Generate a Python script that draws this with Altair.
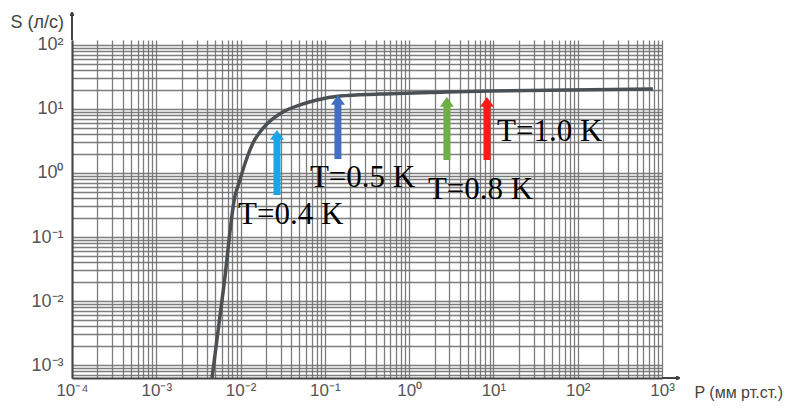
import altair as alt
import pandas as pd

# ---- data ----
curve_p = [10**-2.339, 10**-2.197, 10**-2.066, 10**-2.019, 10**-1.972, 10**-1.912,
           10**-1.853, 10**-1.770, 10**-1.687, 10**-1.497, 10**-1.295, 10**-1.094,
           10**-0.821, 10**-0.347, 10**0.448, 10**0.958, 10**2.892]
curve_s = [10**-3.203, 10**-1.75, 10**-0.359, 10**-0.156, 10**0.047, 10**0.281,
           10**0.469, 10**0.641, 10**0.766, 10**0.953, 10**1.063, 10**1.141,
           10**1.203, 10**1.234, 10**1.266, 10**1.281, 10**1.3125]

arrow_names = ["T=0.4 K", "T=0.5 K", "T=0.8 K", "T=1.0 K"]
arrow_p = [10**-1.568, 10**-0.845, 10**0.448, 10**0.923]
arrow_s_low = [10**-0.344, 10**0.219, 10**0.203, 10**0.203]
arrow_s_high = [10**0.672, 10**1.219, 10**1.188, 10**1.188]
arrow_colors = ["#18a6ea", "#4170c2", "#6fae46", "#ff1a1a"]

label_p = [10**-2.031, 10**-1.177, 10**0.223, 10**1.042]
label_s = [10**-0.656, 10**-0.078, 10**-0.266, 10**0.641]

x_title = "P (мм рт.ст.)"
y_title = "S (л/с)"

x_domain = [1e-4, 1e3]
y_domain = [10**-3.203, 10**2.078]

x_grid = [m * 10**k for k in range(-4, 3) for m in range(1, 10)] + [1000]
y_grid = [v for v in (m * 10**k for k in range(-4, 2) for m in range(1, 10)) if v >= y_domain[0]] + [100]

W, H = 590, 338

sup = "['⁻⁴','⁻³','⁻²','⁻¹','⁰','¹','²','³']"
lab_expr = ("abs(log(datum.value)/LN10 - round(log(datum.value)/LN10)) < 0.001 ? '10' + "
            + sup + "[round(log(datum.value)/LN10)+4] : ''")

xs = alt.Scale(type="log", domain=x_domain, nice=False)
ys = alt.Scale(type="log", domain=y_domain, nice=False)

curve_df = pd.DataFrame({"p": curve_p, "s": curve_s})
arrow_df = pd.DataFrame({"name": arrow_names, "p": arrow_p, "lo": arrow_s_low,
                         "hi": arrow_s_high, "lp": label_p, "ls": label_s})

grid_style = dict(gridColor="#6f6f6f", gridWidth=1.3, gridOpacity=0.9)

x_axis = alt.Axis(values=x_grid, labelExpr=lab_expr, grid=True, ticks=False,
                  labelOverlap=False, labelFlush=False, labelPadding=4,
                  labelFont="Liberation Sans", labelFontSize=17, labelColor="#555555",
                  domainColor="#444444", domainWidth=2,
                  title=x_title, titleAngle=0, titleX=622, titleY=14,
                  titleAlign="left", titleBaseline="middle",
                  titleFont="Liberation Sans", titleFontSize=16,
                  titleFontWeight="normal", titleColor="#444444", **grid_style)
y_axis = alt.Axis(values=y_grid, labelExpr=lab_expr, grid=True, ticks=False,
                  labelOverlap=False, labelFlush=False, labelPadding=9,
                  labelFont="Liberation Sans", labelFontSize=18, labelColor="#555555",
                  domainColor="#444444", domainWidth=2,
                  title=y_title, titleAngle=0, titleX=-62, titleY=-18,
                  titleAlign="left", titleBaseline="middle",
                  titleFont="Liberation Sans", titleFontSize=18,
                  titleFontWeight="normal", titleColor="#444444", **grid_style)

curve = alt.Chart(curve_df).mark_line(color="#4b5054", strokeWidth=3.5,
                                      interpolate="monotone").encode(
    x=alt.X("p:Q", scale=xs, axis=x_axis),
    y=alt.Y("s:Q", scale=ys, axis=y_axis),
)

color = alt.Color("name:N", scale=alt.Scale(domain=arrow_names, range=arrow_colors), legend=None)

shafts = alt.Chart(arrow_df).mark_rule(strokeWidth=7, y2Offset=8, strokeCap="butt").encode(
    x=alt.X("p:Q", scale=xs),
    y=alt.Y("lo:Q", scale=ys),
    y2="hi:Q",
    color=color,
)

heads = alt.Chart(arrow_df).mark_point(shape="M -1 1.4 L 0 0 L 1 1.4 Z", size=196,
                                       filled=True, opacity=1, strokeWidth=0).encode(
    x=alt.X("p:Q", scale=xs),
    y=alt.Y("hi:Q", scale=ys),
    color=color,
)

labels = alt.Chart(arrow_df).mark_text(align="left", baseline="middle",
                                       font="Liberation Serif", fontSize=31,
                                       color="black").encode(
    x=alt.X("lp:Q", scale=xs),
    y=alt.Y("ls:Q", scale=ys),
    text="name:N",
)

# axis arrows
y_arrow = alt.Chart(curve_df).mark_rule(color="#444444", strokeWidth=2).encode(
    x=alt.value(0), y=alt.value(0), y2=alt.value(-26))
y_arrow_head = alt.Chart(curve_df).mark_point(shape="M -1 1.6 L 0 0 L 1 1.6 Z", size=16,
                                              filled=True, opacity=1, color="#444444").encode(
    x=alt.value(0), y=alt.value(-28))
x_arrow = alt.Chart(curve_df).mark_rule(color="#444444", strokeWidth=2).encode(
    x=alt.value(W), x2=alt.value(W + 16), y=alt.value(H))
x_arrow_head = alt.Chart(curve_df).mark_point(shape="M -1.6 -1 L 0 0 L -1.6 1 Z", size=16,
                                              filled=True, opacity=1, color="#444444").encode(
    x=alt.value(W + 18), y=alt.value(H))

chart = alt.layer(curve, shafts, heads, labels, y_arrow, y_arrow_head, x_arrow, x_arrow_head).properties(
    width=W, height=H,
    autosize=alt.AutoSizeParams(type="none"),
    padding={"left": 64, "top": 32, "right": 133, "bottom": 23},
    background="white",
).configure_view(stroke=None)

chart.save("out.html", embed_options={"renderer": "svg", "actions": False})
